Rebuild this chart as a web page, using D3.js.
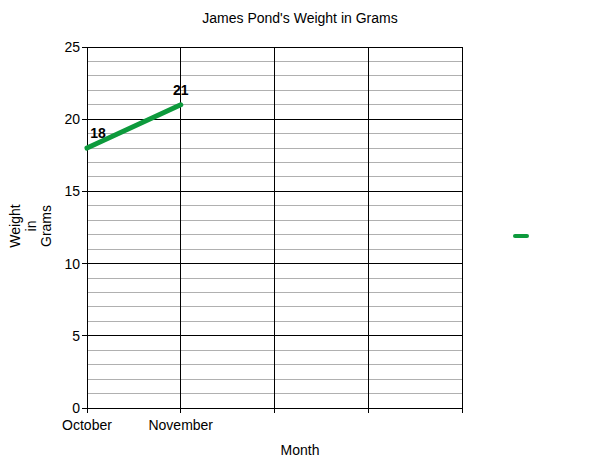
<!DOCTYPE html>
<html><head><meta charset="utf-8">
<script src="https://cdn.jsdelivr.net/npm/d3@7"></script>
<style>body{margin:0;background:#fff;}svg{display:block;font-family:"Liberation Sans",Arial,sans-serif;}</style>
</head><body>
<svg id="c" width="600" height="463"></svg>
<script>
const categories = ["October","November","","",""];
const weights = [18, 21];
const yTicks = [0,5,10,15,20,25];
const minorTicks = d3.range(0,26,1);

const svg = d3.select("#c");
const m = {l:87, r:462, t:47, b:408};
const x = d3.scaleLinear().domain([0, categories.length-1]).range([m.l, m.r]);
const y = d3.scaleLinear().domain([0,25]).range([m.b, m.t]);

// minor grid
svg.append("g").selectAll("line").data(minorTicks.filter(d=>d%5!==0)).join("line")
  .attr("x1",m.l).attr("x2",m.r).attr("y1",d=>y(d)).attr("y2",d=>y(d))
  .attr("stroke","#b0b0b0").attr("stroke-width",1).attr("shape-rendering","crispEdges");
// major grid
svg.append("g").selectAll("line").data(yTicks).join("line")
  .attr("x1",m.l-5).attr("x2",m.r).attr("y1",d=>y(d)).attr("y2",d=>y(d))
  .attr("stroke","#000").attr("stroke-width",1).attr("shape-rendering","crispEdges");
// vertical grid
svg.append("g").selectAll("line").data(d3.range(categories.length)).join("line")
  .attr("x1",d=>x(d)).attr("x2",d=>x(d)).attr("y1",m.t).attr("y2",m.b+5)
  .attr("stroke","#000").attr("stroke-width",1).attr("shape-rendering","crispEdges");

// y tick labels
svg.append("g").selectAll("text").data(yTicks).join("text")
  .attr("x",m.l-7).attr("y",d=>y(d)).attr("dy","0.35em").attr("text-anchor","end")
  .attr("font-size",14).attr("fill","#000").text(d=>d);
// x tick labels
svg.append("g").selectAll("text").data(categories).join("text")
  .attr("x",(d,i)=>x(i)).attr("y",430).attr("text-anchor","middle")
  .attr("font-size",14).attr("fill","#000").text(d=>d);

// line
const line = d3.line().x((d,i)=>x(i)).y(d=>y(d));
svg.append("path").datum(weights).attr("d",line).attr("fill","none")
  .attr("stroke","#0d9a3c").attr("stroke-width",5).attr("stroke-linecap","round");
// data labels
svg.append("g").selectAll("text").data(weights).join("text")
  .attr("x",(d,i)=>x(i)+ (i===0?11:0)).attr("y",d=>y(d)-10).attr("text-anchor","middle")
  .attr("font-size",14).attr("font-weight","bold").attr("fill","#000").text(d=>d);

// title
svg.append("text").attr("x",300).attr("y",23).attr("text-anchor","middle")
  .attr("font-size",14).text("James Pond's Weight in Grams");
// x title
svg.append("text").attr("x",300).attr("y",455).attr("text-anchor","middle")
  .attr("font-size",14).text("Month");
// y title
const yl = ["Weight","in","Grams"];
yl.forEach((t,i)=>{
  svg.append("text").attr("transform",`translate(${20+i*15.5},226) rotate(-90)`)
    .attr("text-anchor","middle").attr("font-size",14).text(t);
});
// legend
svg.append("line").attr("x1",515).attr("x2",527).attr("y1",236).attr("y2",236)
  .attr("stroke","#0d9a3c").attr("stroke-width",4).attr("stroke-linecap","round");
</script>
</body></html>
